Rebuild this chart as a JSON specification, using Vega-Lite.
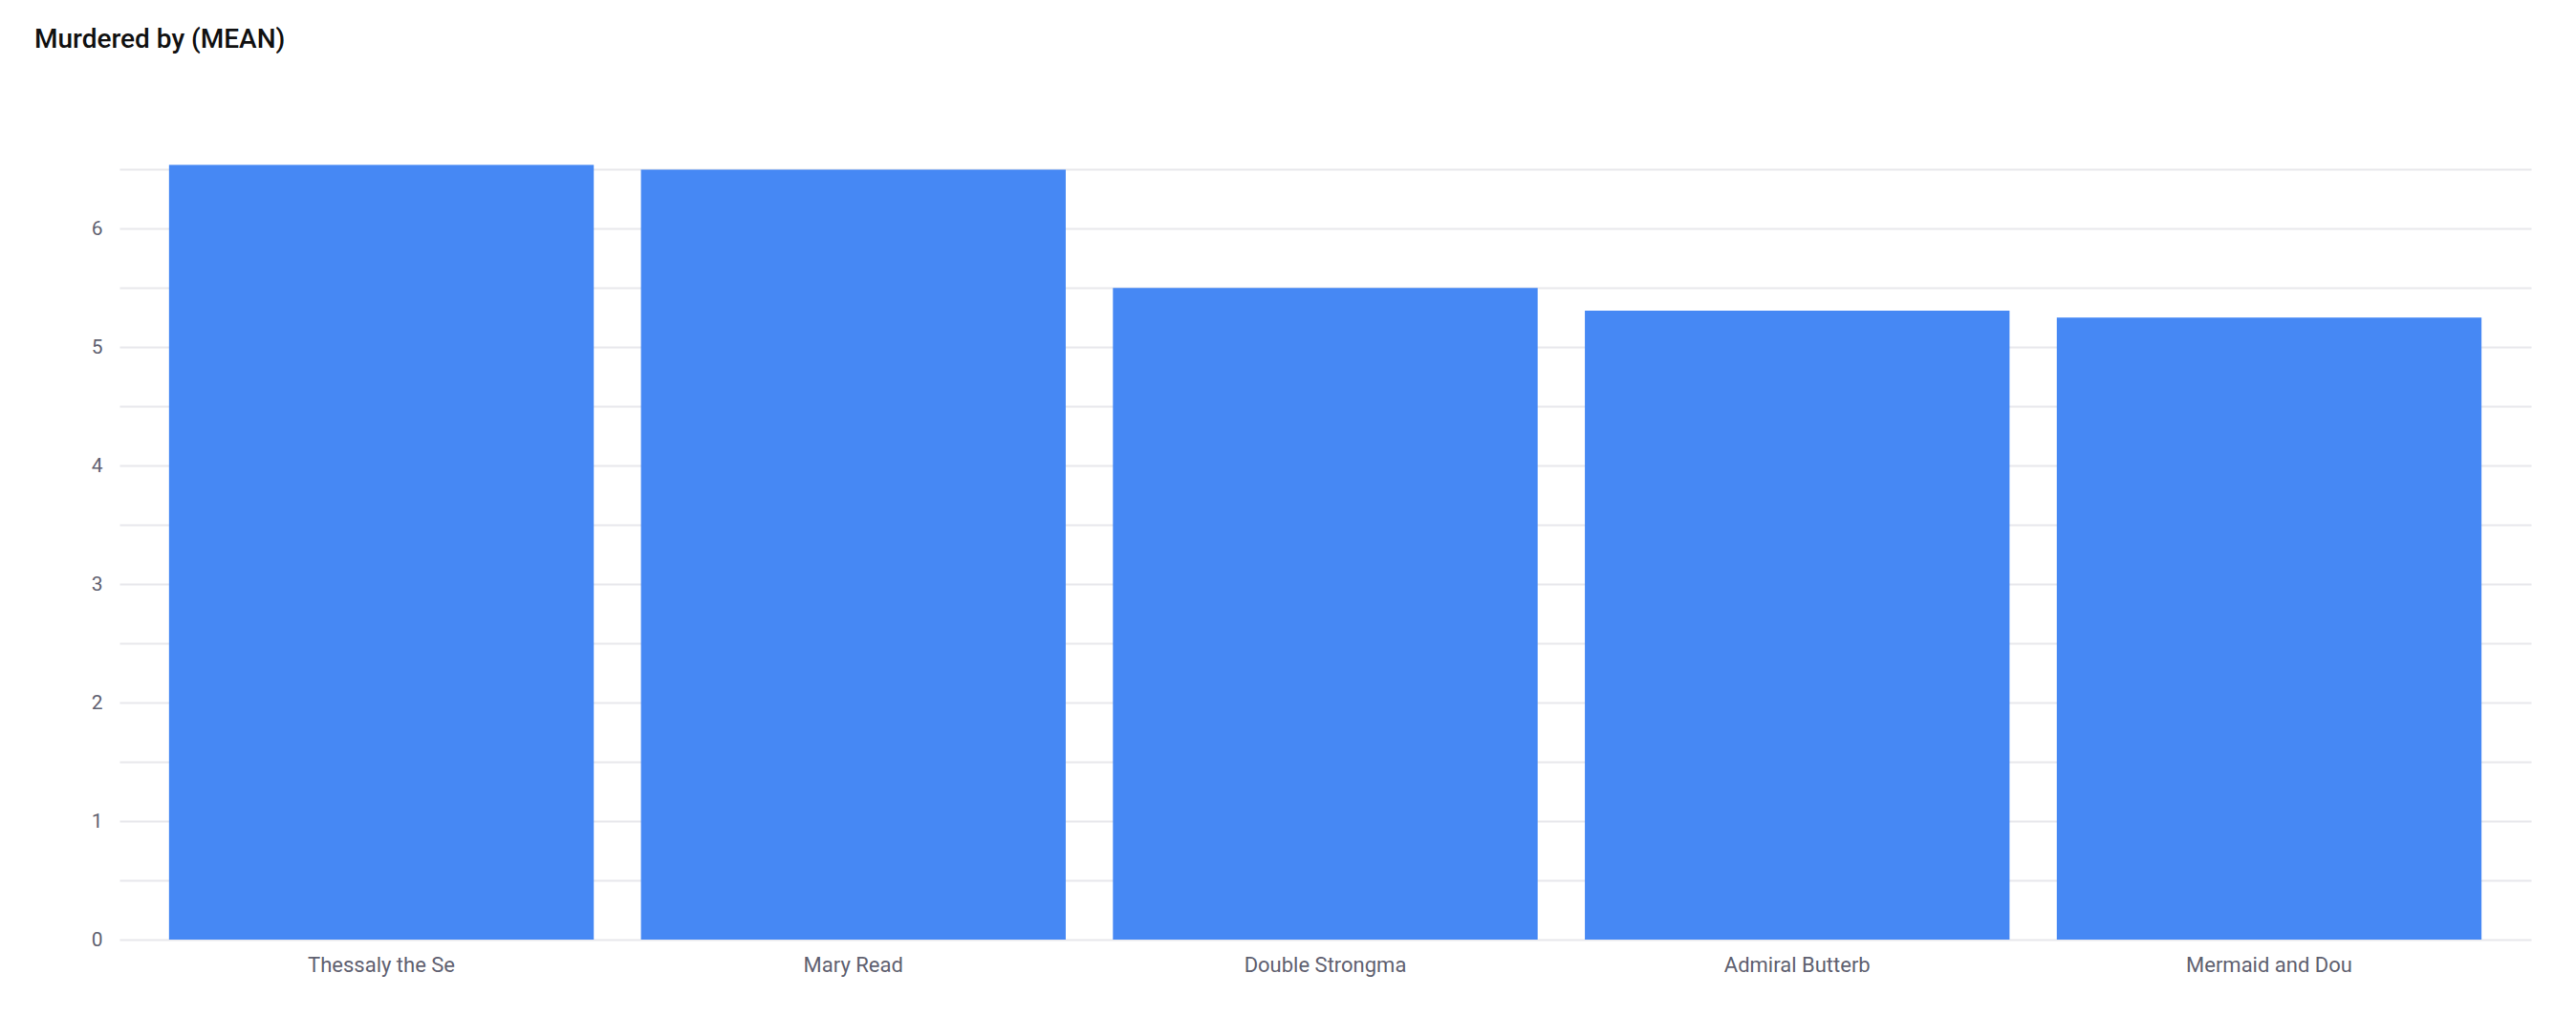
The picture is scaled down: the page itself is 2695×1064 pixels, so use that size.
{
  "$schema": "https://vega.github.io/schema/vega-lite/v6.json",
  "background": "white",
  "autosize": {"type": "none"},
  "padding": {"left": 125, "top": 165, "right": 47, "bottom": 81},
  "width": 2523,
  "height": 818,
  "title": {
    "text": "Murdered by (MEAN)",
    "anchor": "start",
    "frame": "group",
    "font": "Roboto",
    "fontSize": 28,
    "fontWeight": 500,
    "color": "#111111",
    "baseline": "alphabetic",
    "offset": 0,
    "dx": -89,
    "dy": -87
  },
  "config": {
    "view": {"stroke": "transparent"},
    "axis": {
      "labelFont": "Roboto",
      "labelColor": "#5f6170",
      "labelFontSize": 21,
      "ticks": false,
      "domain": false,
      "title": null
    }
  },
  "data": {
    "values": [
      {"name": "Thessaly the Se", "murdered": 6.54},
      {"name": "Mary Read", "murdered": 6.5},
      {"name": "Double Strongma", "murdered": 5.5},
      {"name": "Admiral Butterb", "murdered": 5.31},
      {"name": "Mermaid and Dou", "murdered": 5.25}
    ]
  },
  "mark": {"type": "bar", "color": "#4688f4"},
  "encoding": {
    "x": {
      "field": "name",
      "type": "nominal",
      "sort": null,
      "scale": {"paddingInner": 0.1, "paddingOuter": 0.105},
      "axis": {"labelAngle": 0, "labelPadding": 16, "grid": false, "labelFontSize": 22}
    },
    "y": {
      "field": "murdered",
      "type": "quantitative",
      "scale": {"domain": [0, 6.6], "nice": false},
      "axis": {
        "values": [0, 0.5, 1, 1.5, 2, 2.5, 3, 3.5, 4, 4.5, 5, 5.5, 6, 6.5],
        "labelExpr": "datum.value % 1 == 0 ? format(datum.value, 'd') : ''",
        "labelPadding": 18,
        "gridColor": "#e8e8ec",
        "gridWidth": 2
      }
    }
  }
}
